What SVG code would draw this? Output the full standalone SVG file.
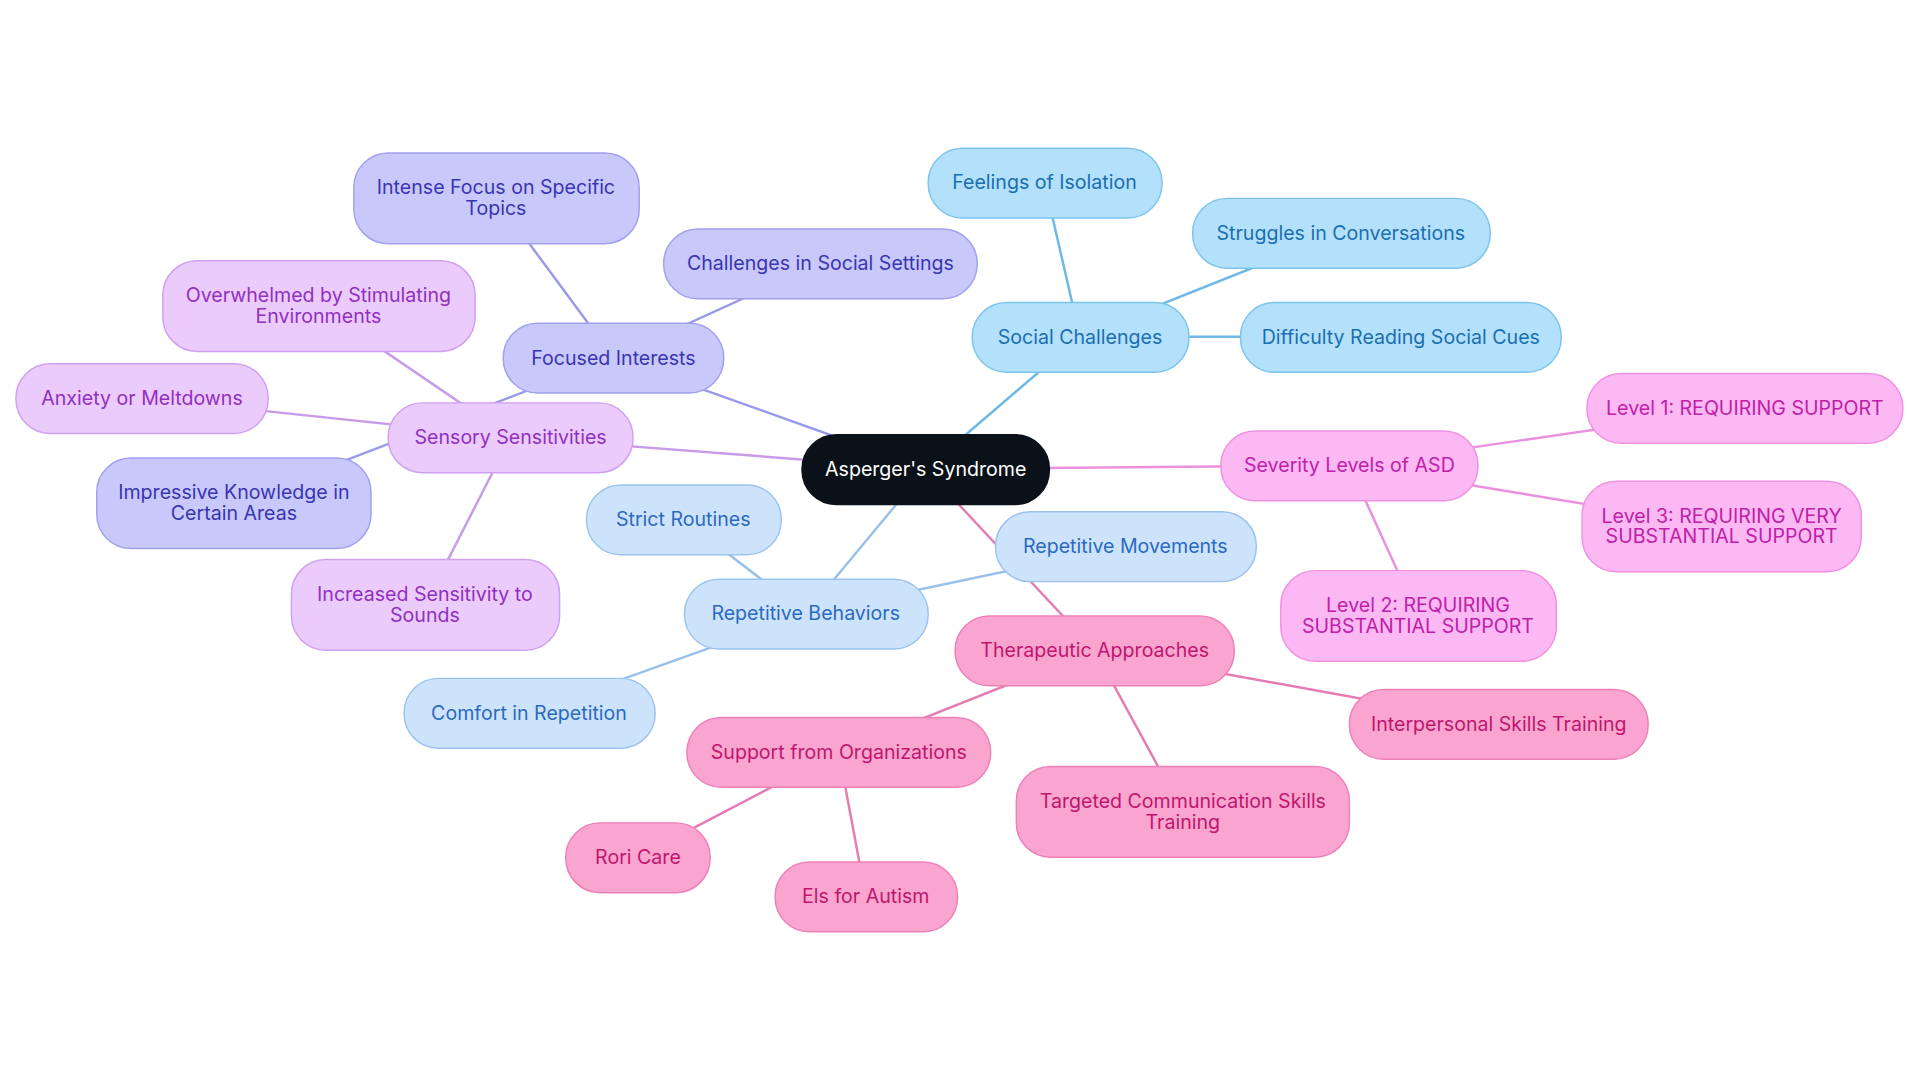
<svg xmlns="http://www.w3.org/2000/svg" width="1920" height="1083" viewBox="0 0 1920 1083">
<style>
text{font-family:Inter,"Noto Sans",sans-serif;font-size:16px;text-anchor:middle;dominant-baseline:central}
rect{stroke-width:1.2}
.c rect{fill:#0b1118;stroke:#0b1118}.c text{fill:#fff}
.sc rect{fill:#b3e0fb;stroke:#7cc4ee}.sc text{fill:#1a6fb0}
.rb rect{fill:#cde3fb;stroke:#9cc3ef}.rb text{fill:#2a6abf}
.fi rect{fill:#c8c8fb;stroke:#a0a0ee}.fi text{fill:#3a35b0}
.ss rect{fill:#ebcbfb;stroke:#cfa0ef}.ss text{fill:#9030c0}
.sl rect{fill:#fbb8f2;stroke:#f090e0}.sl text{fill:#c020a8}
.ta rect{fill:#f9a5cf;stroke:#ee80b8}.ta text{fill:#c0156f}
#edges line{stroke-width:2;fill:none}
</style>
<rect width="1920" height="1083" fill="#fff"/>
<g transform="scale(1.2245)">
<g id="edges">
<g stroke="#6cb8e6"><line x1="756" y1="383" x2="882" y2="275"/><line x1="882" y1="275" x2="853" y2="149"/><line x1="882" y1="275" x2="1095" y2="190"/><line x1="882" y1="275" x2="1144" y2="275"/></g>
<g stroke="#ea90dc"><line x1="756" y1="383" x2="1102" y2="380"/><line x1="1102" y1="380" x2="1425" y2="333"/><line x1="1102" y1="380" x2="1406" y2="430"/><line x1="1102" y1="380" x2="1158" y2="503"/></g>
<g stroke="#e57cb0"><line x1="756" y1="383" x2="894" y2="531"/><line x1="894" y1="531" x2="1224" y2="591"/><line x1="894" y1="531" x2="966" y2="663"/><line x1="894" y1="531" x2="685" y2="614"/><line x1="685" y1="614" x2="521" y2="700"/><line x1="685" y1="614" x2="707" y2="732"/></g>
<g stroke="#98c0ea"><line x1="756" y1="383" x2="658" y2="501"/><line x1="658" y1="501" x2="919" y2="446"/><line x1="658" y1="501" x2="558" y2="424"/><line x1="658" y1="501" x2="432" y2="582"/></g>
<g stroke="#9a98e8"><line x1="756" y1="383" x2="501" y2="292"/><line x1="501" y1="292" x2="405" y2="162"/><line x1="501" y1="292" x2="670" y2="215"/><line x1="501" y1="292" x2="191" y2="411"/></g>
<g stroke="#c79be8"><line x1="756" y1="383" x2="417" y2="357"/><line x1="417" y1="357" x2="260" y2="250"/><line x1="417" y1="357" x2="116" y2="325"/><line x1="417" y1="357" x2="347" y2="494"/></g>
</g>
<g id="n-center" class="c"><rect x="655" y="355" width="202" height="57" rx="28"/><text x="756" y="383">Asperger's Syndrome</text></g>
<g id="n-social" class="sc"><rect x="794" y="247" width="177" height="57" rx="28"/><text x="882" y="275">Social Challenges</text></g>
<g id="n-isolation" class="sc"><rect x="758" y="121" width="191" height="57" rx="28"/><text x="853" y="149">Feelings of Isolation</text></g>
<g id="n-conv" class="sc"><rect x="974" y="162" width="243" height="57" rx="28"/><text x="1095" y="190">Struggles in Conversations</text></g>
<g id="n-cues" class="sc"><rect x="1013" y="247" width="262" height="57" rx="28"/><text x="1144" y="275">Difficulty Reading Social Cues</text></g>
<g id="n-severity" class="sl"><rect x="997" y="352" width="210" height="57" rx="28"/><text x="1102" y="380">Severity Levels of ASD</text></g>
<g id="n-l1" class="sl"><rect x="1296" y="305" width="258" height="57" rx="28"/><text x="1425" y="333">Level 1: REQUIRING SUPPORT</text></g>
<g id="n-l3" class="sl"><rect x="1292" y="393" width="228" height="74" rx="28"/><text x="1406" y="421">Level 3: REQUIRING VERY</text><text x="1406" y="438">SUBSTANTIAL SUPPORT</text></g>
<g id="n-l2" class="sl"><rect x="1046" y="466" width="225" height="74" rx="28"/><text x="1158" y="494">Level 2: REQUIRING</text><text x="1158" y="511">SUBSTANTIAL SUPPORT</text></g>
<g id="n-ther" class="ta"><rect x="780" y="503" width="228" height="57" rx="28"/><text x="894" y="531">Therapeutic Approaches</text></g>
<g id="n-inter" class="ta"><rect x="1102" y="563" width="244" height="57" rx="28"/><text x="1224" y="591">Interpersonal Skills Training</text></g>
<g id="n-targ" class="ta"><rect x="830" y="626" width="272" height="74" rx="28"/><text x="966" y="654">Targeted Communication Skills</text><text x="966" y="671">Training</text></g>
<g id="n-org" class="ta"><rect x="561" y="586" width="248" height="57" rx="28"/><text x="685" y="614">Support from Organizations</text></g>
<g id="n-rori" class="ta"><rect x="462" y="672" width="118" height="57" rx="28"/><text x="521" y="700">Rori Care</text></g>
<g id="n-els" class="ta"><rect x="633" y="704" width="149" height="57" rx="28"/><text x="707" y="732">Els for Autism</text></g>
<g id="n-rep" class="rb"><rect x="559" y="473" width="199" height="57" rx="28"/><text x="658" y="501">Repetitive Behaviors</text></g>
<g id="n-mov" class="rb"><rect x="813" y="418" width="213" height="57" rx="28"/><text x="919" y="446">Repetitive Movements</text></g>
<g id="n-strict" class="rb"><rect x="479" y="396" width="159" height="57" rx="28"/><text x="558" y="424">Strict Routines</text></g>
<g id="n-comfort" class="rb"><rect x="330" y="554" width="205" height="57" rx="28"/><text x="432" y="582">Comfort in Repetition</text></g>
<g id="n-focus" class="fi"><rect x="411" y="264" width="180" height="57" rx="28"/><text x="501" y="292">Focused Interests</text></g>
<g id="n-intense" class="fi"><rect x="289" y="125" width="233" height="74" rx="28"/><text x="405" y="153">Intense Focus on Specific</text><text x="405" y="170">Topics</text></g>
<g id="n-chall" class="fi"><rect x="542" y="187" width="256" height="57" rx="28"/><text x="670" y="215">Challenges in Social Settings</text></g>
<g id="n-know" class="fi"><rect x="79" y="374" width="224" height="74" rx="28"/><text x="191" y="402">Impressive Knowledge in</text><text x="191" y="419">Certain Areas</text></g>
<g id="n-sens" class="ss"><rect x="317" y="329" width="200" height="57" rx="28"/><text x="417" y="357">Sensory Sensitivities</text></g>
<g id="n-over" class="ss"><rect x="133" y="213" width="255" height="74" rx="28"/><text x="260" y="241">Overwhelmed by Stimulating</text><text x="260" y="258">Environments</text></g>
<g id="n-anx" class="ss"><rect x="13" y="297" width="206" height="57" rx="28"/><text x="116" y="325">Anxiety or Meltdowns</text></g>
<g id="n-sound" class="ss"><rect x="238" y="457" width="219" height="74" rx="28"/><text x="347" y="485">Increased Sensitivity to</text><text x="347" y="502">Sounds</text></g>
</g>
</svg>
